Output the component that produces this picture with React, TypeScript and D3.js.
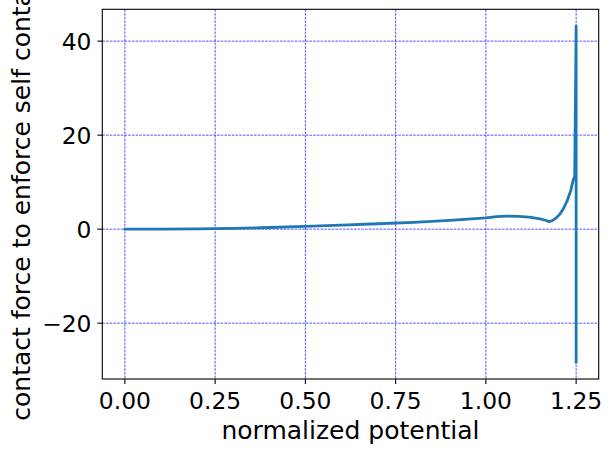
import * as d3 from "d3";

// normalized potential vs contact force
const potential = [
  0, 0.1, 0.2, 0.3, 0.4, 0.5, 0.6, 0.7, 0.8, 0.9, 1.0, 1.03, 1.06, 1.09, 1.12,
  1.15, 1.165, 1.175, 1.185, 1.195, 1.205, 1.215, 1.225, 1.235, 1.242, 1.246,
  1.25, 1.25,
];
const force = [
  0, 0.03, 0.08, 0.17, 0.35, 0.6, 0.85, 1.15, 1.45, 1.85, 2.4, 2.65, 2.76, 2.74,
  2.55, 2.2, 1.9, 1.6, 1.85, 2.4, 3.2, 4.4, 6.0, 8.2, 10.5, 11.2, 43.2, -28.3,
];
const xTicks = [0, 0.25, 0.5, 0.75, 1.0, 1.25];
const yTicks = [-20, 0, 20, 40];

const W = 613;
const H = 452;
const margin = { top: 9.3, right: 14.3, bottom: 73, left: 102.3 };
const FONT = "DejaVu Sans, sans-serif";

export default function App() {
  const x0 = d3.min(potential)!;
  const x1 = d3.max(potential)!;
  const y0 = d3.min(force)!;
  const y1 = d3.max(force)!;
  const px = (x1 - x0) * 0.05;
  const py = (y1 - y0) * 0.05;

  const x = d3
    .scaleLinear()
    .domain([x0 - px, x1 + px])
    .range([margin.left, W - margin.right]);
  const y = d3
    .scaleLinear()
    .domain([y0 - py, y1 + py])
    .range([H - margin.bottom, margin.top]);

  const pts = potential.map((p, i) => [p, force[i]] as [number, number]);
  const line = d3
    .line<[number, number]>()
    .x((d) => x(d[0]))
    .y((d) => y(d[1]))
    .curve(d3.curveLinear);

  const [left, right] = x.range();
  const [bottom, top] = y.range();
  const tickLen = 4.9;

  return (
    <svg
      width={W}
      height={H}
      style={{ position: "absolute", left: 0, top: 0, background: "#fff" }}
      fontFamily={FONT}
    >
      <defs>
        <clipPath id="plot">
          <rect x={left} y={top} width={right - left} height={bottom - top} />
        </clipPath>
      </defs>

      {/* grid */}
      <g stroke="#1a1aff" strokeWidth={0.75} strokeDasharray="2.6,1.1">
        {xTicks.map((t) => (
          <line key={"gx" + t} x1={x(t)} x2={x(t)} y1={top} y2={bottom} />
        ))}
        {yTicks.map((t) => (
          <line key={"gy" + t} x1={left} x2={right} y1={y(t)} y2={y(t)} />
        ))}
      </g>

      {/* data */}
      <path
        d={line(pts) ?? ""}
        fill="none"
        stroke="#1f77b4"
        strokeWidth={2.8}
        strokeLinejoin="round"
        strokeLinecap="square"
        clipPath="url(#plot)"
      />

      {/* frame */}
      <rect
        x={left}
        y={top}
        width={right - left}
        height={bottom - top}
        fill="none"
        stroke="#000"
        strokeWidth={1.1}
      />

      {/* x axis */}
      <g>
        {xTicks.map((t) => (
          <g key={"xt" + t}>
            <line x1={x(t)} x2={x(t)} y1={bottom} y2={bottom + tickLen} stroke="#000" strokeWidth={1.1} />
            <text x={x(t)} y={408.5} textAnchor="middle" fontSize={23.4} fill="#000">
              {t.toFixed(2)}
            </text>
          </g>
        ))}
        <text x={(left + right) / 2} y={439} textAnchor="middle" fontSize={25} fill="#000">
          normalized potential
        </text>
      </g>

      {/* y axis */}
      <g>
        {yTicks.map((t) => (
          <g key={"yt" + t}>
            <line x1={left - tickLen} x2={left} y1={y(t)} y2={y(t)} stroke="#000" strokeWidth={1.1} />
            <text x={91.5} y={y(t)} dy="0.36em" textAnchor="end" fontSize={23.4} fill="#000">
              {t < 0 ? "\u2212" + Math.abs(t) : String(t)}
            </text>
          </g>
        ))}
        <text
          transform={`translate(29.5,${(top + bottom) / 2}) rotate(-90)`}
          textAnchor="middle"
          fontSize={25}
          fill="#000"
        >
          contact force to enforce self contact
        </text>
      </g>
    </svg>
  );
}
